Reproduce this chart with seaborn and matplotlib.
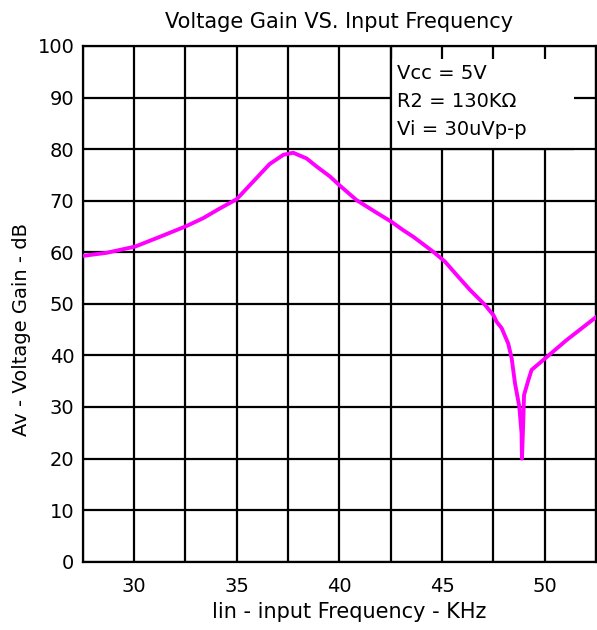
import matplotlib
matplotlib.use("Agg")
import matplotlib.pyplot as plt
from matplotlib.ticker import MultipleLocator
from matplotlib.patches import Rectangle
import seaborn as sns
import pandas as pd

freq_khz = [27.5, 28.67, 30.05, 31.26, 32.56, 33.36, 34.18, 35.0, 35.8, 36.6,
            37.27, 37.75, 38.4, 38.9, 39.54, 40.03, 40.84, 41.8, 42.54, 43.1,
            43.6, 44.57, 45.14, 45.71, 46.36, 47.09, 47.5, 47.66, 47.9, 48.22,
            48.39, 48.55, 48.76, 48.87, 48.89, 48.95, 48.99, 49.2, 49.36, 50.01,
            51.07, 52.52]
gain_db = [59.3, 59.9, 61.1, 63.0, 65.1, 66.6, 68.5, 70.3, 73.7, 77.1,
           78.9, 79.3, 78.2, 76.6, 74.7, 72.9, 70.1, 67.7, 65.9, 64.3,
           63.0, 60.1, 58.2, 55.6, 52.7, 49.8, 47.8, 46.5, 45.3, 42.3,
           39.4, 34.6, 30.1, 24.9, 20.0, 26.8, 32.3, 35.2, 37.2, 39.4,
           43.0, 47.5]
x_ticks = [30, 35, 40, 45, 50]
y_ticks = [0, 10, 20, 30, 40, 50, 60, 70, 80, 90, 100]
title = "Voltage Gain VS. Input Frequency"
x_label = "lin - input Frequency - KHz"
y_label = "Av - Voltage Gain - dB"
conditions = ["Vcc = 5V", "R2 = 130KΩ", "Vi = 30uVp-p"]

df = pd.DataFrame({"freq": freq_khz, "gain": gain_db})

sns.set_theme(style="white")
plt.rcParams["font.family"] = ["DejaVu Sans"]

fig = plt.figure(figsize=(5.97, 6.30), dpi=100)
ax = fig.add_axes([0.1385, 0.1084, 0.8600, 0.8186])

ax.set_xlim(27.5, 52.5)
ax.set_ylim(0, 100)
ax.set_xticks(x_ticks)
ax.set_xticklabels([str(t) for t in x_ticks])
ax.xaxis.set_minor_locator(MultipleLocator(2.5))
ax.set_yticks(y_ticks)
ax.set_yticklabels([str(t) for t in y_ticks])
ax.tick_params(axis="both", which="both", length=0, labelsize=14, colors="black")
ax.tick_params(axis="x", pad=11)
ax.tick_params(axis="y", pad=6)

ax.grid(True, which="both", color="black", linewidth=1.6)
ax.set_axisbelow(True)
for s in ax.spines.values():
    s.set_color("black")
    s.set_linewidth(1.6)

# condition box (white, covers grid)
box = Rectangle((42.5, 80), 8.9, 17.4, facecolor="white", edgecolor="none", zorder=1)
ax.add_patch(box)
ax.vlines(42.5, 80, 100, color="black", linewidth=1.6, zorder=1.2)
ax.hlines(80, 42.5, 51.4, color="black", linewidth=1.6, zorder=1.2)
for i, t in enumerate(conditions):
    ax.text(42.8, 94.6 - i * 5.4, t, fontsize=14, color="black",
            ha="left", va="center", zorder=1.5)

sns.lineplot(data=df, x="freq", y="gain", sort=False, color="#FF00FF",
             linewidth=2.8, ax=ax, zorder=3)

ax.set_title(title, fontsize=15, color="black", pad=13)
ax.set_xlabel(x_label, fontsize=15, color="black")
ax.set_ylabel(y_label, fontsize=14, color="black")
ax.xaxis.set_label_coords(0.52, -0.078)
ax.yaxis.set_label_coords(-0.1, 0.451)

fig.savefig("out.png", dpi=100)
